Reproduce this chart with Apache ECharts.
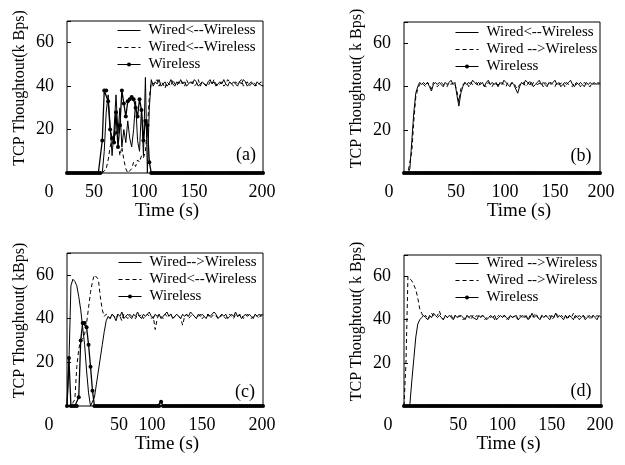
<!DOCTYPE html>
<html>
<head>
<meta charset="utf-8">
<script src="https://cdn.jsdelivr.net/npm/echarts@6/dist/echarts.min.js"></script>
<style>
  html, body { margin: 0; padding: 0; background: #fff; }
  #chart { width: 625px; height: 465px; }
</style>
</head>
<body>
<div id="chart"></div>
<script>
// sample times (s), shared by all panels
const time = [0,2,4,6,8,10,12,14,16,18,20,22,24,26,28,30,32,34,36,38,40,42,44,46,48,50,52,54,56,58,
  60,62,64,66,68,70,72,74,76,78,80,82,84,86,88,90,92,94,96,98,100,102,104,106,108,110,112,114,116,118,
  120,122,124,126,128,130,132,134,136,138,140,142,144,146,148,150,152,154,156,158,160,162,164,166,168,170,
  172,174,176,178,180,182,184,186,188,190,192,194,196,198,200];

const xTicks = [0, 50, 100, 150, 200];
const yTicks = [20, 40, 60];

// (a)
const solidA = [0,0,0,0,0,0,0,0,0,0, 0,0,0,0,0,0,0,0,0,10, 28,36,22,8,20,36,18,30,12,20,
  14,24,16,12,20,33,15,10,30,8, 44,0,30,43,40,42,41,43,40,41, 42,40,41,43,41,40,42,41,43,41,
  42,40,41,42,41,43,42,40,41,42, 41,40,42,43,41,42,40,41,42,41, 43,41,40,42,41,42,41,40,42,41,
  43,42,40,41,42,41,40,42,41,41, 40];
const dashedA = [0,0,0,0,0,0,0,0,0,0, 0,0,0,0,0,0,0,0,0,0, 2,6,12,16,14,20,15,8,12,6,
  2,0,0,2,5,3,6,5,8,7, 10,20,35,42,41,41,43,40,42,41, 39,42,41,40,43,41,40,42,41,42,
  40,43,41,41,42,40,41,43,40,42, 41,41,40,42,41,43,41,40,41,42, 40,41,43,42,41,40,42,41,41,43,
  40,41,42,40,41,42,41,40,41,42, 40];
const wirelessA = [0,0,0,0,0,0,0,0,0,0, 0,0,0,0,0,0,0,0,15,38, 38,33,20,16,14,28,12,22,38,32,
  26,33,34,35,34,30,26,34,29,15, 24,22,5,0,0,0,0,0,0,0, 0,0,0,0,0,0,0,0,0,0,
  0,0,0,0,0,0,0,0,0,0, 0,0,0,0,0,0,0,0,0,0, 0,0,0,0,0,0,0,0,0,0,
  0,0,0,0,0,0,0,0,0,0, 0];

// (b)
const solidB = [0,0,0,2,15,28,37,40,42,41, 42,41,42,40,38,41,42,41,42,41, 40,42,41,42,43,41,42,36,31,37,
  40,42,41,42,41,43,42,41,42,41, 42,40,42,43,41,42,41,42,40,42, 41,43,42,41,40,42,41,41,37,40,
  42,41,43,42,41,42,40,41,42,43, 41,42,41,40,42,41,42,43,41,42, 40,41,42,41,42,43,41,40,42,41,
  42,41,40,42,41,42,41,42,41,42, 41];
const dashedB = [0,0,0,0,10,24,35,39,41,42, 41,40,42,41,39,42,41,40,41,42, 41,41,40,42,41,42,41,38,33,39,
  41,41,42,40,42,41,41,42,40,42, 41,41,40,42,42,40,42,41,41,41, 42,41,40,42,41,41,42,40,39,41,
  41,42,40,41,43,40,42,42,41,41, 42,40,42,41,41,42,41,40,42,41, 41,42,40,42,41,41,40,42,41,42,
  40,41,42,41,41,40,42,41,42,41, 42];
const wirelessB = [0,0,0,0,0,0,0,0,0,0, 0,0,0,0,0,0,0,0,0,0, 0,0,0,0,0,0,0,0,0,0,
  0,0,0,0,0,0,0,0,0,0, 0,0,0,0,0,0,0,0,0,0, 0,0,0,0,0,0,0,0,0,0,
  0,0,0,0,0,0,0,0,0,0, 0,0,0,0,0,0,0,0,0,0, 0,0,0,0,0,0,0,0,0,0,
  0,0,0,0,0,0,0,0,0,0, 0];

// (c)
const solidC = [0,20,55,58,57,55,50,44,36,28, 16,6,0,0,4,10,16,22,28,34, 39,41,40,42,41,39,42,41,43,40,
  41,42,41,40,42,41,43,41,40,42, 41,42,43,41,40,42,41,42,40,41, 42,43,41,42,40,41,42,41,40,42,
  41,42,41,43,42,41,40,42,41,42, 41,40,42,41,41,43,42,40,41,42, 41,42,40,41,42,41,43,41,42,40,
  41,42,41,42,41,40,42,41,42,41, 42];
const dashedC = [0,0,0,0,3,18,26,30,31,33, 38,45,52,57,60,60,58,50,44,41, 42,41,40,42,41,40,42,41,39,42,
  41,40,42,41,41,40,42,41,42,40, 41,42,41,40,41,35,40,42,41,40, 42,41,41,42,40,41,42,41,40,37,
  41,42,40,41,42,41,40,41,42,40, 41,41,42,40,41,42,41,41,40,42, 41,40,41,42,41,40,42,41,41,42,
  40,41,42,41,40,41,42,41,40,42, 41];
const wirelessC = [0,22,0,0,0,0,4,30,38,38, 36,28,18,7,0,0,0,0,0,0, 0,0,0,0,0,0,0,0,0,0,
  0,0,0,0,0,0,0,0,0,0, 0,0,0,0,0,0,0,0,2,0, 0,0,0,0,0,0,0,0,0,0,
  0,0,0,0,0,0,0,0,0,0, 0,0,0,0,0,0,0,0,0,0, 0,0,0,0,0,0,0,0,0,0,
  0,0,0,0,0,0,0,0,0,0, 0];

// (d)
const solidD = [0,0,0,1,12,22,32,38,40,41, 42,41,40,42,41,43,42,41,42,41, 40,42,41,42,41,40,42,41,41,42,
  41,40,42,41,42,41,41,40,42,41, 42,41,40,41,42,41,42,40,41,42, 41,42,41,40,42,41,41,42,40,41,
  42,41,42,40,41,43,41,42,41,40, 42,41,42,41,40,42,41,43,41,42, 41,40,42,41,42,41,40,42,41,42,
  41,42,40,41,42,41,42,41,40,42, 41];
const dashedD = [0,20,60,59,58,56,54,50,45,43, 41,42,40,41,43,42,41,42,44,41, 40,42,41,41,42,40,42,41,42,41,
  40,41,42,41,40,42,41,42,41,41, 42,40,41,42,41,42,40,41,42,41, 41,42,40,41,42,41,42,41,40,42,
  41,42,41,40,42,41,42,43,41,40, 42,41,42,41,42,40,41,43,42,41, 42,41,42,40,42,41,43,41,42,40,
  41,42,41,42,41,40,42,41,42,41, 41];
const wirelessD = [0,0,0,0,0,0,0,0,0,0, 0,0,0,0,0,0,0,0,0,0, 0,0,0,0,0,0,0,0,0,0,
  0,0,0,0,0,0,0,0,0,0, 0,0,0,0,0,0,0,0,0,0, 0,0,0,0,0,0,0,0,0,0,
  0,0,0,0,0,0,0,0,0,0, 0,0,0,0,0,0,0,0,0,0, 0,0,0,0,0,0,0,0,0,0,
  0,0,0,0,0,0,0,0,0,0, 0];

const legendA = ['Wired<--Wireless', 'Wired<--Wireless', 'Wireless'];
const legendB = ['Wired<--Wireless', 'Wired -->Wireless', 'Wireless'];
const legendC = ['Wired-->Wireless', 'Wired<--Wireless', 'Wireless'];
const legendD = ['Wired -->Wireless', 'Wired -->Wireless', 'Wireless'];

const tags = ['(a)', '(b)', '(c)', '(d)'];
const yTitles = ['TCP Thoughtout(k Bps)', 'TCP Thoughtout( k Bps)', 'TCP Thoughtout( kBps)', 'TCP Thoughtout( k Bps)'];

const panelData = [
  [solidA, dashedA, wirelessA],
  [solidB, dashedB, wirelessB],
  [solidC, dashedC, wirelessC],
  [solidD, dashedD, wirelessD],
];
const panelLegend = [legendA, legendB, legendC, legendD];

// layout
const FONT = '"Liberation Serif", "Times New Roman", serif';
const grids = [
  { left: 67, top: 21, width: 196, height: 152 },
  { left: 404, top: 22, width: 196, height: 151 },
  { left: 67, top: 253, width: 196, height: 153 },
  { left: 404, top: 255, width: 197, height: 151 },
];
const legendPos = [
  { left: 112, top: 17 },
  { left: 450, top: 19 },
  { left: 113, top: 249 },
  { left: 450, top: 250 },
];
const tagPos = [[246, 155], [581, 156], [245, 392], [581, 391]];
// the printed tick labels sit a bit off their ticks in the source figure
const xLabelShift = [
  [-18, -22, -21, -20, -1],
  [-15, 3, 3, 4, 1],
  [-18, 3, -13, -12, -1],
  [-16, 5, 0, 0, -1],
];
const xNameShift = [2, 17, 2, 6];

const pad = (s) => (s < 0 ? [0, -2 * s, 0, 0] : [0, 0, 0, 2 * s]);

const richFor = (p) => {
  const r = {};
  xLabelShift[p].forEach((s, k) => {
    r['s' + k] = { fontFamily: FONT, fontSize: 18, color: '#000', padding: pad(s) };
  });
  return r;
};

const option = {
  animation: false,
  backgroundColor: '#fff',
  grid: grids.map((g) => ({ ...g, show: true, borderColor: '#000', borderWidth: 1 })),
  xAxis: grids.map((g, p) => ({
    gridIndex: p,
    type: 'value',
    min: 0,
    max: 200,
    interval: 50,
    axisLine: { show: false },
    axisTick: { show: false },
    splitLine: { show: false },
    axisLabel: {
      margin: 10,
      formatter: (v) => `{s${xTicks.indexOf(v)}|${v}}`,
      rich: richFor(p),
    },
    name: 'Time (s)',
    nameLocation: 'middle',
    nameGap: 28,
    nameTextStyle: { fontFamily: FONT, fontSize: 19, color: '#000', padding: pad(xNameShift[p]) },
  })),
  yAxis: grids.map((g, p) => ({
    gridIndex: p,
    type: 'value',
    min: 0,
    max: 70,
    interval: 20,
    axisLine: { show: false },
    axisTick: { show: true, inside: true, length: 4, lineStyle: { color: '#000' } },
    splitLine: { show: false },
    axisLabel: {
      margin: 13,
      fontFamily: FONT,
      fontSize: 18,
      color: '#000',
      formatter: (v) => (yTicks.includes(v) ? String(v) : ''),
    },
    name: yTitles[p],
    nameLocation: 'middle',
    nameGap: 39,
    nameTextStyle: { fontFamily: FONT, fontSize: 16, color: '#000', padding: [0, 0, 0, 18] },
  })),
  legend: panelLegend.map((labels, p) => ({
    ...legendPos[p],
    orient: 'vertical',
    itemWidth: 23,
    itemHeight: 5,
    itemGap: 0,
    selectedMode: false,
    lineStyle: { width: 1 },
    data: labels.map((l, k) => ({
      name: `p${p}s${k}`,
      itemStyle: k < 2 ? { opacity: 0 } : undefined,
    })),
    formatter: (name) => labels[+name.slice(3)],
    textStyle: { fontFamily: FONT, fontSize: 15, color: '#000', lineHeight: 17, padding: [0, 0, 0, 3] },
  })),
  graphic: tags.map((t, p) => ({
    type: 'text',
    x: tagPos[p][0],
    y: tagPos[p][1],
    style: { text: t, font: '18px ' + FONT, fill: '#000', textAlign: 'center', textVerticalAlign: 'middle' },
  })),
  series: [],
};

panelData.forEach((list, p) => {
  list.forEach((vals, k) => {
    const wireless = k === 2;
    option.series.push({
      name: `p${p}s${k}`,
      type: 'line',
      xAxisIndex: p,
      yAxisIndex: p,
      data: vals.map((v, i) => [time[i], v]),
      symbol: wireless ? 'circle' : 'none',
      symbolSize: 4,
      z: wireless ? 4 : 3,
      itemStyle: { color: '#000' },
      lineStyle: {
        color: '#000',
        width: wireless ? 1.3 : 1,
        type: k === 1 ? [4, 3] : 'solid',
      },
    });
  });
});

const chart = echarts.init(document.getElementById('chart'));
chart.setOption(option);
</script>
</body>
</html>
